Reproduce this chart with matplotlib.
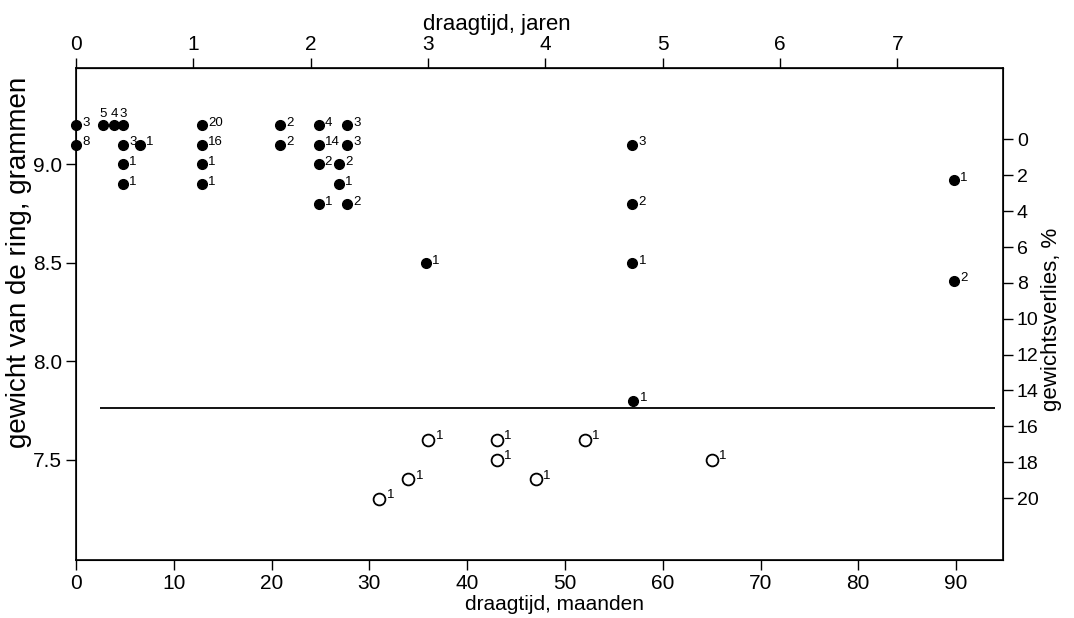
"""Gewicht van ringen tegen draagtijd"""
import matplotlib.pyplot as plt

plt.rcParams['font.family'] = ['Liberation Sans', 'DejaVu Sans']

# gevulde punten: draagtijd (maanden), gewicht (g), aantal ringen
filled_months = [0, 2.8, 3.9, 4.8, 12.9, 20.9, 24.8, 27.7,
                 0, 4.8, 6.5, 12.9, 20.9, 24.8, 27.7, 56.9,
                 4.8, 12.9, 24.8, 26.9,
                 4.8, 12.9, 26.9,
                 24.8, 27.7, 56.9,
                 35.8, 56.9,
                 89.8, 89.8, 57.0]
filled_weight = [9.2, 9.2, 9.2, 9.2, 9.2, 9.2, 9.2, 9.2,
                 9.1, 9.1, 9.1, 9.1, 9.1, 9.1, 9.1, 9.1,
                 9.0, 9.0, 9.0, 9.0,
                 8.9, 8.9, 8.9,
                 8.8, 8.8, 8.8,
                 8.5, 8.5,
                 8.92, 8.41, 7.8]
filled_count = [3, 5, 4, 3, 20, 2, 4, 3,
                8, 3, 1, 16, 2, 14, 3, 3,
                1, 1, 2, 2,
                1, 1, 1,
                1, 2, 2,
                1, 1,
                1, 2, 1]

# open punten
open_months = [31, 34, 36, 43, 43, 47, 52, 65]
open_weight = [7.3, 7.4, 7.6, 7.6, 7.5, 7.4, 7.6, 7.5]
open_count = [1, 1, 1, 1, 1, 1, 1, 1]

# grens gewichtsverlies (%)
limit_pct = 15
limit_from, limit_to = 2.5, 94.0

year_ticks = [0, 1, 2, 3, 4, 5, 6, 7]
month_ticks = [0, 10, 20, 30, 40, 50, 60, 70, 80, 90]
weight_ticks = [7.5, 8.0, 8.5, 9.0]
pct_ticks = [0, 2, 4, 6, 8, 10, 12, 14, 16, 18, 20]


def to_pct(g):
    """gewicht (g) naar positie op de rechter as"""
    return (9.0 - g) * 10.975 + 1.393


fig = plt.figure(figsize=(10.74, 6.18), dpi=100)
ax = fig.add_axes([0.0708, 0.0939, 0.8631, 0.796])
ax.set_xlim(0, 94.8)
ax.set_ylim(6.99, 9.49)

ax.plot(filled_months, filled_weight, 'o', color='black', markersize=7,
        clip_on=False, zorder=3)
ax.plot(open_months, open_weight, 'o', markerfacecolor='white',
        markeredgecolor='black', markersize=8.5, markeredgewidth=1.3,
        clip_on=False, zorder=3)

# aantallen naast de punten; bij dicht opeen liggende punten erboven
for i, (m, w, n) in enumerate(zip(filled_months, filled_weight, filled_count)):
    crowded = any(abs(m2 - m) < 1.5 and w2 == w and j != i
                  for j, (m2, w2) in enumerate(zip(filled_months, filled_weight)))
    if crowded:
        ax.annotate(str(n), (m, w), xytext=(0, 4), textcoords='offset points',
                    ha='center', va='bottom', fontsize=9.5)
    else:
        ax.annotate(str(n), (m, w), xytext=(4.5, -0.5), textcoords='offset points',
                    ha='left', va='baseline', fontsize=9.5)
for m, w, n in zip(open_months, open_weight, open_count):
    ax.annotate(str(n), (m, w), xytext=(5.5, 0.5), textcoords='offset points',
                ha='left', va='baseline', fontsize=9.5)

ax.set_xticks(month_ticks)
ax.set_xticklabels([str(t) for t in month_ticks], fontsize=15)
ax.set_yticks(weight_ticks)
ax.set_yticklabels(['%.1f' % t for t in weight_ticks], fontsize=15)
ax.tick_params(direction='out', length=7, width=1, pad=3)
for sp in ax.spines.values():
    sp.set_linewidth(1.2)

ax.set_xlabel('draagtijd, maanden', fontsize=15)
ax.xaxis.set_label_coords(0.516, -0.072)
ax.set_ylabel('gewicht van de ring, grammen', fontsize=20)
ax.yaxis.set_label_coords(-0.047, 0.605)

top = ax.secondary_xaxis('top', functions=(lambda m: m / 12, lambda j: j * 12))
top.set_xticks(year_ticks)
top.set_xticklabels([str(t) for t in year_ticks], fontsize=15)
top.tick_params(direction='out', length=7, width=1, pad=3)
top.set_xlabel('draagtijd, jaren', fontsize=16, x=0.454, ha='center')

right = ax.twinx()
right.set_ylim(to_pct(6.99), to_pct(9.49))
right.set_yticks(pct_ticks)
right.set_yticklabels([str(t) for t in pct_ticks], fontsize=14)
right.tick_params(direction='out', length=7, width=1, pad=3)
right.set_ylabel('gewichtsverlies, %', fontsize=16)
right.yaxis.set_label_coords(1.041, 0.49)
right.hlines(limit_pct, limit_from, limit_to, color='black', linewidth=1.3)

fig.savefig('out.png', dpi=100)
